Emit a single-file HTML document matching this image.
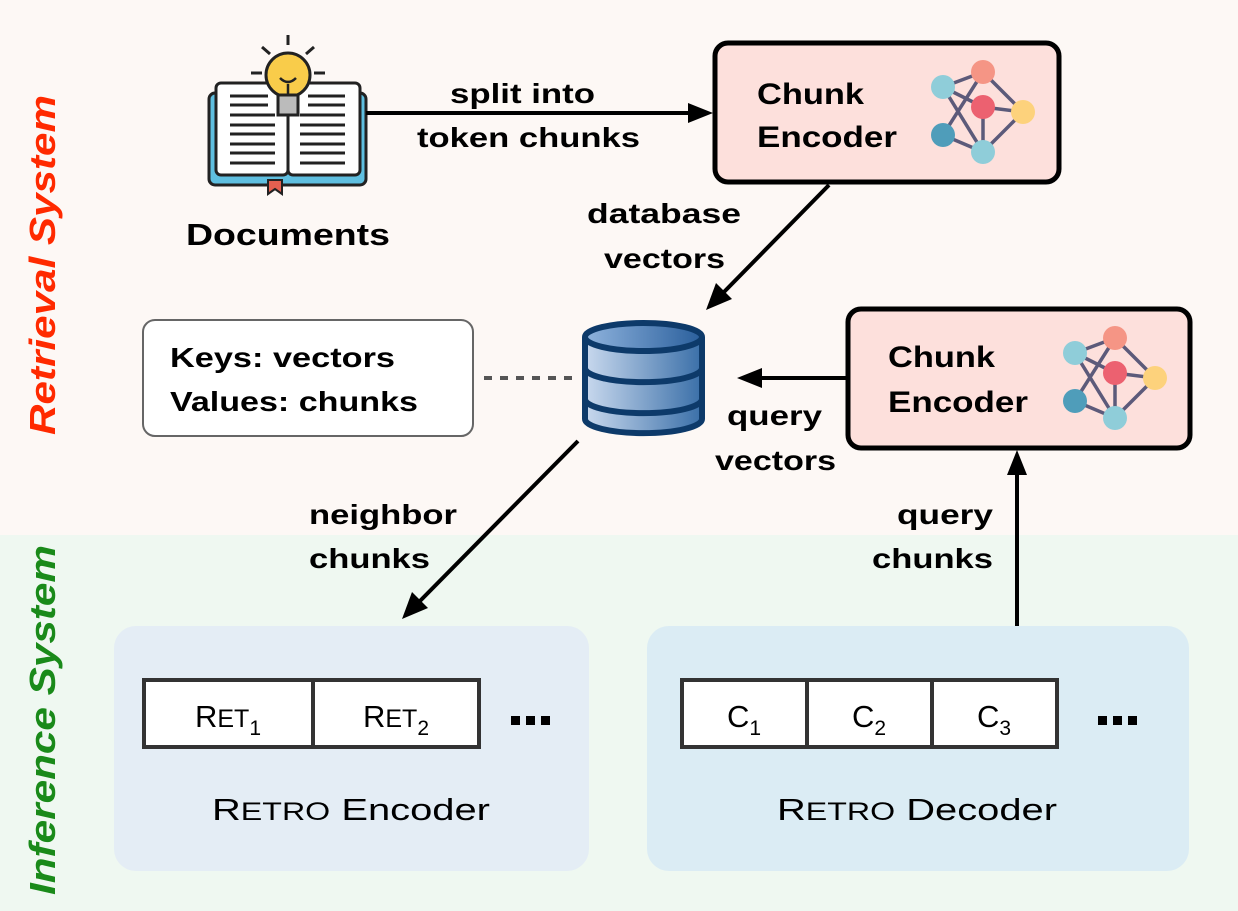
<!DOCTYPE html>
<html><head><meta charset="utf-8"><style>
html,body{margin:0;padding:0;background:#fdf8f5;}
svg{display:block;font-family:"Liberation Sans",sans-serif;}
text{font-weight:bold;}
</style></head><body>
<svg width="1238" height="911" viewBox="0 0 1238 911" xmlns="http://www.w3.org/2000/svg">
<defs>
<linearGradient id="dbg" x1="0" x2="1" y1="0" y2="0">
<stop offset="0" stop-color="#c9d9ee"/><stop offset="1" stop-color="#3a6fa8"/></linearGradient>
<linearGradient id="dbt" x1="0" x2="1"><stop offset="0" stop-color="#8fb3dd"/><stop offset="1" stop-color="#2a5f9c"/></linearGradient>
</defs>
<rect x="0" y="0" width="1238" height="535" fill="#fdf8f5"/>
<rect x="0" y="535" width="1238" height="376" fill="#eff8f1"/>

<text transform="translate(55,265) rotate(-90)" text-anchor="middle" font-size="36" font-style="italic" fill="#ff2a00" textLength="340" lengthAdjust="spacingAndGlyphs">Retrieval System</text>
<text transform="translate(55,720) rotate(-90)" text-anchor="middle" font-size="36" font-style="italic" fill="#1a8a1a" textLength="350" lengthAdjust="spacingAndGlyphs">Inference System</text>

<!-- book icon -->
<g stroke="#222" stroke-width="3">
<rect x="209" y="93" width="157" height="92" rx="6" fill="#5fbfe0"/>
<rect x="216" y="83" width="72" height="92" rx="5" fill="#fff"/>
<rect x="288" y="83" width="72" height="92" rx="5" fill="#fff"/>
<path d="M268 180 h14 v14 l-7 -5 l-7 5z" fill="#e46050" stroke-width="2"/>
</g>
<g stroke="#222" stroke-width="3">
<line x1="230" y1="96" x2="268" y2="96"/><line x1="230" y1="105" x2="268" y2="105"/><line x1="230" y1="115" x2="275" y2="115"/><line x1="230" y1="125" x2="275" y2="125"/><line x1="230" y1="134" x2="275" y2="134"/><line x1="230" y1="144" x2="275" y2="144"/><line x1="230" y1="153" x2="275" y2="153"/><line x1="230" y1="163" x2="275" y2="163"/>
<line x1="308" y1="96" x2="345" y2="96"/><line x1="308" y1="105" x2="345" y2="105"/><line x1="300" y1="115" x2="345" y2="115"/><line x1="300" y1="125" x2="345" y2="125"/><line x1="300" y1="134" x2="345" y2="134"/><line x1="300" y1="144" x2="345" y2="144"/><line x1="300" y1="153" x2="345" y2="153"/><line x1="300" y1="163" x2="345" y2="163"/>
<line x1="288" y1="35" x2="288" y2="45"/><line x1="262" y1="47" x2="270" y2="54"/><line x1="314" y1="47" x2="306" y2="54"/><line x1="251" y1="73" x2="262" y2="73"/><line x1="314" y1="73" x2="325" y2="73"/>
</g>
<circle cx="288" cy="75" r="22" fill="#f9cc4a" stroke="#222" stroke-width="3"/>
<rect x="278" y="95" width="20" height="20" fill="#bbb" stroke="#222" stroke-width="3"/>
<path d="M280 78 q8 8 16 0 M288 84 v12" fill="none" stroke="#222" stroke-width="2.5"/>
<text x="186" y="245" font-size="31" textLength="204" lengthAdjust="spacingAndGlyphs">Documents</text>

<!-- arrow doc -> encoder -->
<line x1="366" y1="113" x2="690" y2="113" stroke="#000" stroke-width="4"/>
<polygon points="713,113 688,103 688,123" fill="#000"/>
<text x="450" y="103" font-size="28" textLength="145" lengthAdjust="spacingAndGlyphs">split into</text>
<text x="417" y="147" font-size="28" textLength="223" lengthAdjust="spacingAndGlyphs">token chunks</text>

<!-- chunk encoder 1 -->
<rect x="715" y="43" width="344" height="139" rx="13" fill="#fde0dc" stroke="#000" stroke-width="5"/>
<text x="757" y="104" font-size="30" textLength="107" lengthAdjust="spacingAndGlyphs">Chunk</text>
<text x="757" y="147" font-size="30" textLength="140" lengthAdjust="spacingAndGlyphs">Encoder</text>
<g id="net">
<g stroke="#5c5a7a" stroke-width="3.5">
<line x1="943" y1="87" x2="983" y2="72"/><line x1="943" y1="87" x2="983" y2="107"/><line x1="943" y1="87" x2="983" y2="152"/>
<line x1="983" y1="72" x2="1023" y2="112"/><line x1="983" y1="72" x2="943" y2="135"/><line x1="983" y1="107" x2="1023" y2="112"/>
<line x1="983" y1="107" x2="983" y2="152"/><line x1="943" y1="135" x2="983" y2="152"/><line x1="1023" y1="112" x2="983" y2="152"/>
</g>
<circle cx="943" cy="87" r="12" fill="#8fcdd9"/><circle cx="983" cy="72" r="12" fill="#f59585"/>
<circle cx="983" cy="107" r="12" fill="#ec6170"/><circle cx="1023" cy="112" r="12" fill="#fdd27c"/>
<circle cx="943" cy="135" r="12" fill="#4f9dba"/><circle cx="983" cy="152" r="12" fill="#8fcdd9"/>
</g>

<!-- encoder -> db -->
<line x1="829" y1="185" x2="722" y2="294" stroke="#000" stroke-width="4"/>
<polygon points="706,310 716,283 732,299" fill="#000"/>
<text x="587" y="223" font-size="28" textLength="154" lengthAdjust="spacingAndGlyphs">database</text>
<text x="604" y="268" font-size="28" textLength="121" lengthAdjust="spacingAndGlyphs">vectors</text>

<!-- keys box -->
<rect x="143" y="320" width="330" height="116" rx="12" fill="#fff" stroke="#666" stroke-width="2"/>
<text x="170" y="367" font-size="28" textLength="225" lengthAdjust="spacingAndGlyphs">Keys: vectors</text>
<text x="170" y="411" font-size="28" textLength="248" lengthAdjust="spacingAndGlyphs">Values: chunks</text>
<line x1="484" y1="378" x2="580" y2="378" stroke="#555" stroke-width="4" stroke-dasharray="8,8"/>

<!-- database -->
<g stroke="#0d3a6a" stroke-width="6">
<path d="M585 399 v20 a58 14 0 0 0 117 0 v-20" fill="url(#dbg)"/>
<path d="M585 368 v31 a58 14 0 0 0 117 0 v-31" fill="url(#dbg)"/>
<path d="M585 337 v31 a58 14 0 0 0 117 0 v-31" fill="url(#dbg)"/>
<ellipse cx="643.5" cy="337" rx="58.5" ry="14" fill="url(#dbt)"/>
</g>

<!-- encoder2 -> db -->
<line x1="847" y1="378" x2="760" y2="378" stroke="#000" stroke-width="4"/>
<polygon points="737,378 762,368 762,388" fill="#000"/>
<text x="727" y="425" font-size="28" textLength="95" lengthAdjust="spacingAndGlyphs">query</text>
<text x="715" y="470" font-size="28" textLength="121" lengthAdjust="spacingAndGlyphs">vectors</text>

<!-- chunk encoder 2 -->
<rect x="848" y="309" width="342" height="139" rx="13" fill="#fde0dc" stroke="#000" stroke-width="5"/>
<text x="888" y="367" font-size="30" textLength="107" lengthAdjust="spacingAndGlyphs">Chunk</text>
<text x="888" y="412" font-size="30" textLength="140" lengthAdjust="spacingAndGlyphs">Encoder</text>
<use href="#net" transform="translate(132,266)"/>

<!-- db -> retro encoder -->
<line x1="578" y1="441" x2="418" y2="603" stroke="#000" stroke-width="4"/>
<polygon points="402,619 412,592 428,608" fill="#000"/>
<text x="309" y="524" font-size="28" textLength="148" lengthAdjust="spacingAndGlyphs">neighbor</text>
<text x="309" y="568" font-size="28" textLength="121" lengthAdjust="spacingAndGlyphs">chunks</text>

<!-- decoder -> encoder2 -->
<line x1="1017" y1="628" x2="1017" y2="473" stroke="#000" stroke-width="4"/>
<polygon points="1017,450 1007,475 1027,475" fill="#000"/>
<text x="897" y="524" font-size="28" textLength="96" lengthAdjust="spacingAndGlyphs">query</text>
<text x="872" y="568" font-size="28" textLength="121" lengthAdjust="spacingAndGlyphs">chunks</text>

<!-- retro encoder -->
<rect x="114" y="626" width="475" height="245" rx="22" fill="#e4edf5"/>
<g stroke="#333" stroke-width="4" fill="#fff">
<rect x="144" y="680" width="169" height="67"/><rect x="313" y="680" width="166" height="67"/>
</g>
<text x="228" y="727" text-anchor="middle" font-size="31" font-weight="normal" style="font-weight:normal">R<tspan font-size="25">ET</tspan><tspan font-size="21" dy="8">1</tspan></text>
<text x="396" y="727" text-anchor="middle" font-size="31" style="font-weight:normal">R<tspan font-size="25">ET</tspan><tspan font-size="21" dy="8">2</tspan></text>
<g fill="#000"><rect x="511" y="716" width="9" height="9"/><rect x="526" y="716" width="9" height="9"/><rect x="541" y="716" width="9" height="9"/></g>
<text x="212" y="820" font-size="31" textLength="278" lengthAdjust="spacingAndGlyphs" style="font-weight:normal">R<tspan font-size="25">ETRO</tspan> Encoder</text>

<!-- retro decoder -->
<rect x="647" y="626" width="542" height="245" rx="22" fill="#dbecf4"/>
<g stroke="#333" stroke-width="4" fill="#fff">
<rect x="682" y="680" width="125" height="67"/><rect x="807" y="680" width="125" height="67"/><rect x="932" y="680" width="125" height="67"/>
</g>
<text x="744" y="727" text-anchor="middle" font-size="31" style="font-weight:normal">C<tspan font-size="21" dy="8">1</tspan></text>
<text x="869" y="727" text-anchor="middle" font-size="31" style="font-weight:normal">C<tspan font-size="21" dy="8">2</tspan></text>
<text x="994" y="727" text-anchor="middle" font-size="31" style="font-weight:normal">C<tspan font-size="21" dy="8">3</tspan></text>
<g fill="#000"><rect x="1098" y="716" width="9" height="9"/><rect x="1113" y="716" width="9" height="9"/><rect x="1128" y="716" width="9" height="9"/></g>
<text x="777" y="820" font-size="31" textLength="280" lengthAdjust="spacingAndGlyphs" style="font-weight:normal">R<tspan font-size="25">ETRO</tspan> Decoder</text>
</svg>
</body></html>
